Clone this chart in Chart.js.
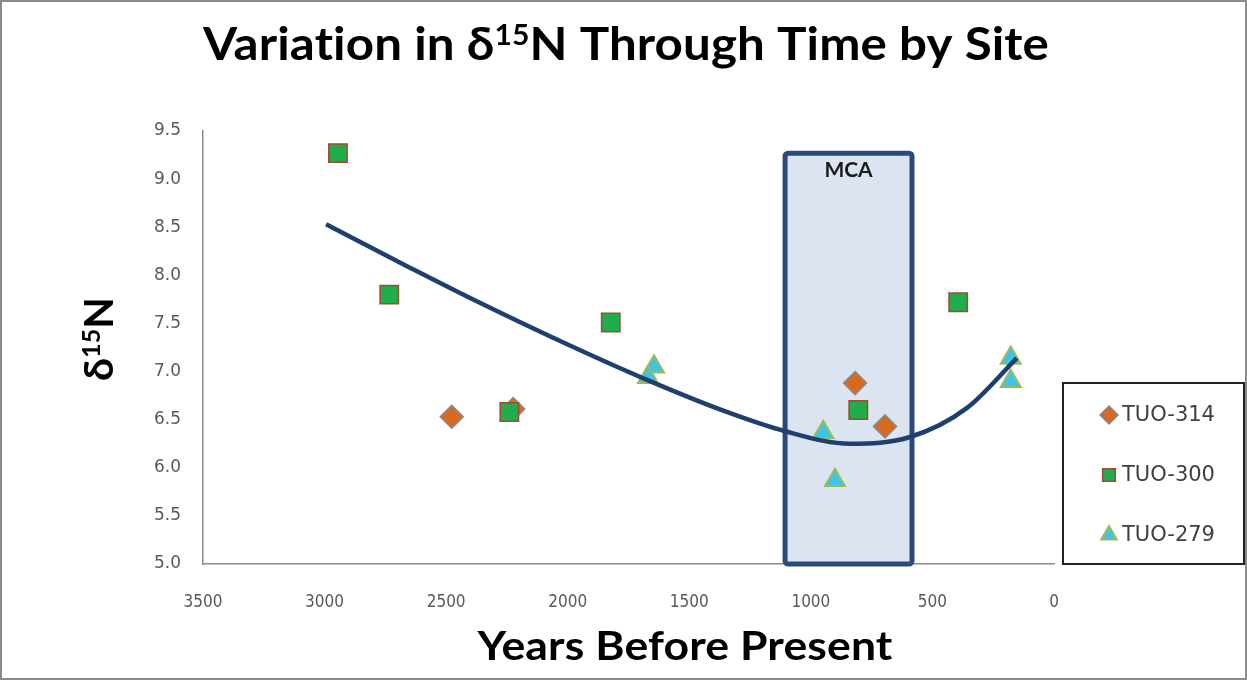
<!DOCTYPE html>
<html>
<head>
<meta charset="utf-8">
<script src="https://cdn.jsdelivr.net/npm/chart.js@4/dist/chart.umd.min.js"></script>
<style>
	body { margin: 0; background: #fff; }
	.wrap { position: relative; width: 1247px; height: 680px; }
	.frame { position: absolute; left: 0; top: 0; right: 0; bottom: 0; border: 2px solid #8a8a8a; box-sizing: border-box; pointer-events: none; }
</style>
</head>
<body>
<div class="wrap">
	<canvas id="n15-chart" width="1247" height="680"></canvas>
	<div class="frame"></div>
</div>
<script>
	// values (years BP, delta 15N)
	const years314 = [2477, 2224, 818, 695]
	const n15Site314 = [6.53, 6.61, 6.88, 6.43]

	const years300 = [2945, 2734, 2240, 1823, 805, 394]
	const n15Site300 = [9.27, 7.80, 6.58, 7.51, 6.60, 7.72]

	const years279 = [1645, 1670, 949, 901, 178, 178]
	const n15Site279 = [7.05, 6.94, 6.37, 5.87, 7.14, 6.90]

	// trend curve
	const trendYears = [2994, 2649, 2374, 1991, 1662, 1346, 1106, 839, 592, 359, 153]
	const trendValues = [8.53, 8.08, 7.73, 7.27, 6.90, 6.58, 6.38, 6.25, 6.32, 6.62, 7.14]

	// Medieval Climate Anomaly box
	const mcaYears = [1106, 584]
	const mcaTop = 9.27

	const xTicks = [0, 500, 1000, 1500, 2000, 2500, 3000, 3500]
	const yTicks = [5.0, 5.5, 6.0, 6.5, 7.0, 7.5, 8.0, 8.5, 9.0, 9.5]

	const siteNames = ['TUO-314', 'TUO-300', 'TUO-279']

	function toPoints(xs, ys) {
		return xs.map((x, i) => ({ x: x, y: ys[i] }))
	}

	function drawParts(ctx, parts, x, y, targetWidth, vertical) {
		ctx.save()
		ctx.translate(x, y)
		if (vertical) ctx.rotate(-Math.PI / 2)
		if ('letterSpacing' in ctx) ctx.letterSpacing = '0.1px'
		let total = 0
		parts.forEach(p => {
			ctx.font = p.font
			p.w = ctx.measureText(p.text).width
			total += p.w
		})
		ctx.scale(targetWidth / total, 1)
		ctx.fillStyle = '#000'
		ctx.textBaseline = 'alphabetic'
		ctx.textAlign = 'left'
		let cx = -total / 2
		parts.forEach(p => {
			ctx.font = p.font
			ctx.fillText(p.text, cx, p.dy || 0)
			cx += p.w
		})
		ctx.restore()
	}

	const big = 'bold 46px Lato, "Open Sans", sans-serif'
	const bigSup = 'bold 28px Lato, "Open Sans", sans-serif'
	const axisFont = 'bold 41px Lato, "Open Sans", sans-serif'
	const axisSup = 'bold 25px Lato, "Open Sans", sans-serif'

	const mcaPlugin = {
		id: 'mcaBox',
		beforeDatasetsDraw(chart) {
			const ctx = chart.ctx
			const xs = chart.scales.x
			const ys = chart.scales.y
			const x1 = xs.getPixelForValue(mcaYears[0])
			const x2 = xs.getPixelForValue(mcaYears[1])
			const top = ys.getPixelForValue(mcaTop)
			const bottom = chart.chartArea.bottom
			ctx.save()
			ctx.beginPath()
			if (ctx.roundRect) ctx.roundRect(x1, top, x2 - x1, bottom - top, 3)
			else ctx.rect(x1, top, x2 - x1, bottom - top)
			ctx.fillStyle = '#dbe4f0'
			ctx.fill()
			ctx.lineWidth = 5
			ctx.strokeStyle = '#2c4a79'
			ctx.stroke()
			ctx.fillStyle = '#1a1a1a'
			ctx.font = 'bold 21px Lato, "Open Sans", sans-serif'
			ctx.textAlign = 'center'
			ctx.textBaseline = 'alphabetic'
			ctx.fillText('MCA', (x1 + x2) / 2, top + 24)
			ctx.restore()
		}
	}

	const textPlugin = {
		id: 'figureText',
		afterDraw(chart) {
			const ctx = chart.ctx
			drawParts(ctx, [
				{ text: 'Variation in δ', font: big },
				{ text: '15', font: bigSup, dy: -15 },
				{ text: 'N Through Time by Site', font: big }
			], 626, 60, 846, false)
			drawParts(ctx, [
				{ text: 'Years Before Present', font: axisFont }
			], 685, 660, 415, false)
			drawParts(ctx, [
				{ text: 'δ', font: axisFont },
				{ text: '15', font: axisSup, dy: -13 },
				{ text: 'N', font: axisFont }
			], 113, 339, 84, true)
		}
	}

	const legendPlugin = {
		id: 'boxLegend',
		afterDraw(chart) {
			const ctx = chart.ctx
			ctx.save()
			ctx.lineWidth = 2
			ctx.strokeStyle = '#222'
			ctx.strokeRect(1063, 383, 181, 181)
			const rows = [415, 475, 535]
			// dataset index for each legend row, in siteNames order
			const dsIndex = [3, 1, 2]
			rows.forEach((y, i) => {
				const ds = chart.data.datasets[dsIndex[i]]
				ctx.fillStyle = ds.backgroundColor
				ctx.strokeStyle = ds.borderColor
				ctx.lineWidth = ds.borderWidth
				Chart.helpers.drawPoint(ctx, { pointStyle: ds.pointStyle, radius: 9, rotation: 0, borderWidth: ds.borderWidth }, 1109, y)
				ctx.fillStyle = '#404040'
				ctx.font = '21px "DejaVu Sans", sans-serif'
				ctx.textAlign = 'left'
				ctx.textBaseline = 'middle'
				ctx.fillText(siteNames[i], 1122, y + 1)
			})
			ctx.restore()
		}
	}

	const tickFontY = { family: '"DejaVu Sans", sans-serif', size: 17 }
	const tickFontX = { family: '"DejaVu Sans Condensed", "Open Sans", sans-serif', size: 17 }

	const config = {
		type: 'scatter',
		data: {
			datasets: [
				{
					label: 'Trend',
					type: 'line',
					data: toPoints(trendYears, trendValues),
					borderColor: '#1f3f6e',
					borderWidth: 4.5,
					pointRadius: 0,
					cubicInterpolationMode: 'monotone',
					fill: false,
					order: 0,
				},
				{
					label: siteNames[1],
					data: toPoints(years300, n15Site300),
					pointStyle: 'rect',
					pointRadius: 13,
					backgroundColor: '#1fae4b',
					borderColor: '#a04a33',
					borderWidth: 1.5,
					order: 1,
				},
				{
					label: siteNames[2],
					data: toPoints(years279, n15Site279),
					pointStyle: 'triangle',
					pointRadius: 11.5,
					backgroundColor: '#3ec4e6',
					borderColor: '#9bbb59',
					borderWidth: 2,
					order: 2,
				},
				{
					label: siteNames[0],
					data: toPoints(years314, n15Site314),
					pointStyle: 'rectRot',
					pointRadius: 11.5,
					backgroundColor: '#d8691f',
					borderColor: '#8a8a8a',
					borderWidth: 1.5,
					order: 3,
				},
			],
		},
		options: {
			responsive: false,
			animation: false,
			layout: { padding: { top: 131, right: 193, left: 0, bottom: 0 } },
			plugins: {
				legend: { display: false },
				tooltip: { enabled: false },
				title: { display: false },
			},
			scales: {
				x: {
					type: 'linear',
					reverse: true,
					min: xTicks[0],
					max: xTicks[xTicks.length - 1],
					afterBuildTicks: s => { s.ticks = xTicks.map(v => ({ value: v })) },
					ticks: { font: tickFontX, color: '#595959', padding: 28, maxRotation: 0, callback: v => String(v) },
					grid: { display: false, drawTicks: false },
					border: { display: true, color: '#8c8c8c', width: 1.5 },
					afterFit: s => { s.height = 116 },
				},
				y: {
					min: yTicks[0],
					max: yTicks[yTicks.length - 1],
					afterBuildTicks: s => { s.ticks = yTicks.map(v => ({ value: v })) },
					ticks: { font: tickFontY, color: '#595959', padding: 22, callback: v => Number(v).toFixed(1) },
					grid: { display: false, drawTicks: false },
					border: { display: true, color: '#8c8c8c', width: 1.5 },
					afterFit: s => { s.width = 203 },
				},
			},
		},
		plugins: [mcaPlugin, textPlugin, legendPlugin],
	}

	new Chart(document.getElementById('n15-chart'), config)
</script>
</body>
</html>
